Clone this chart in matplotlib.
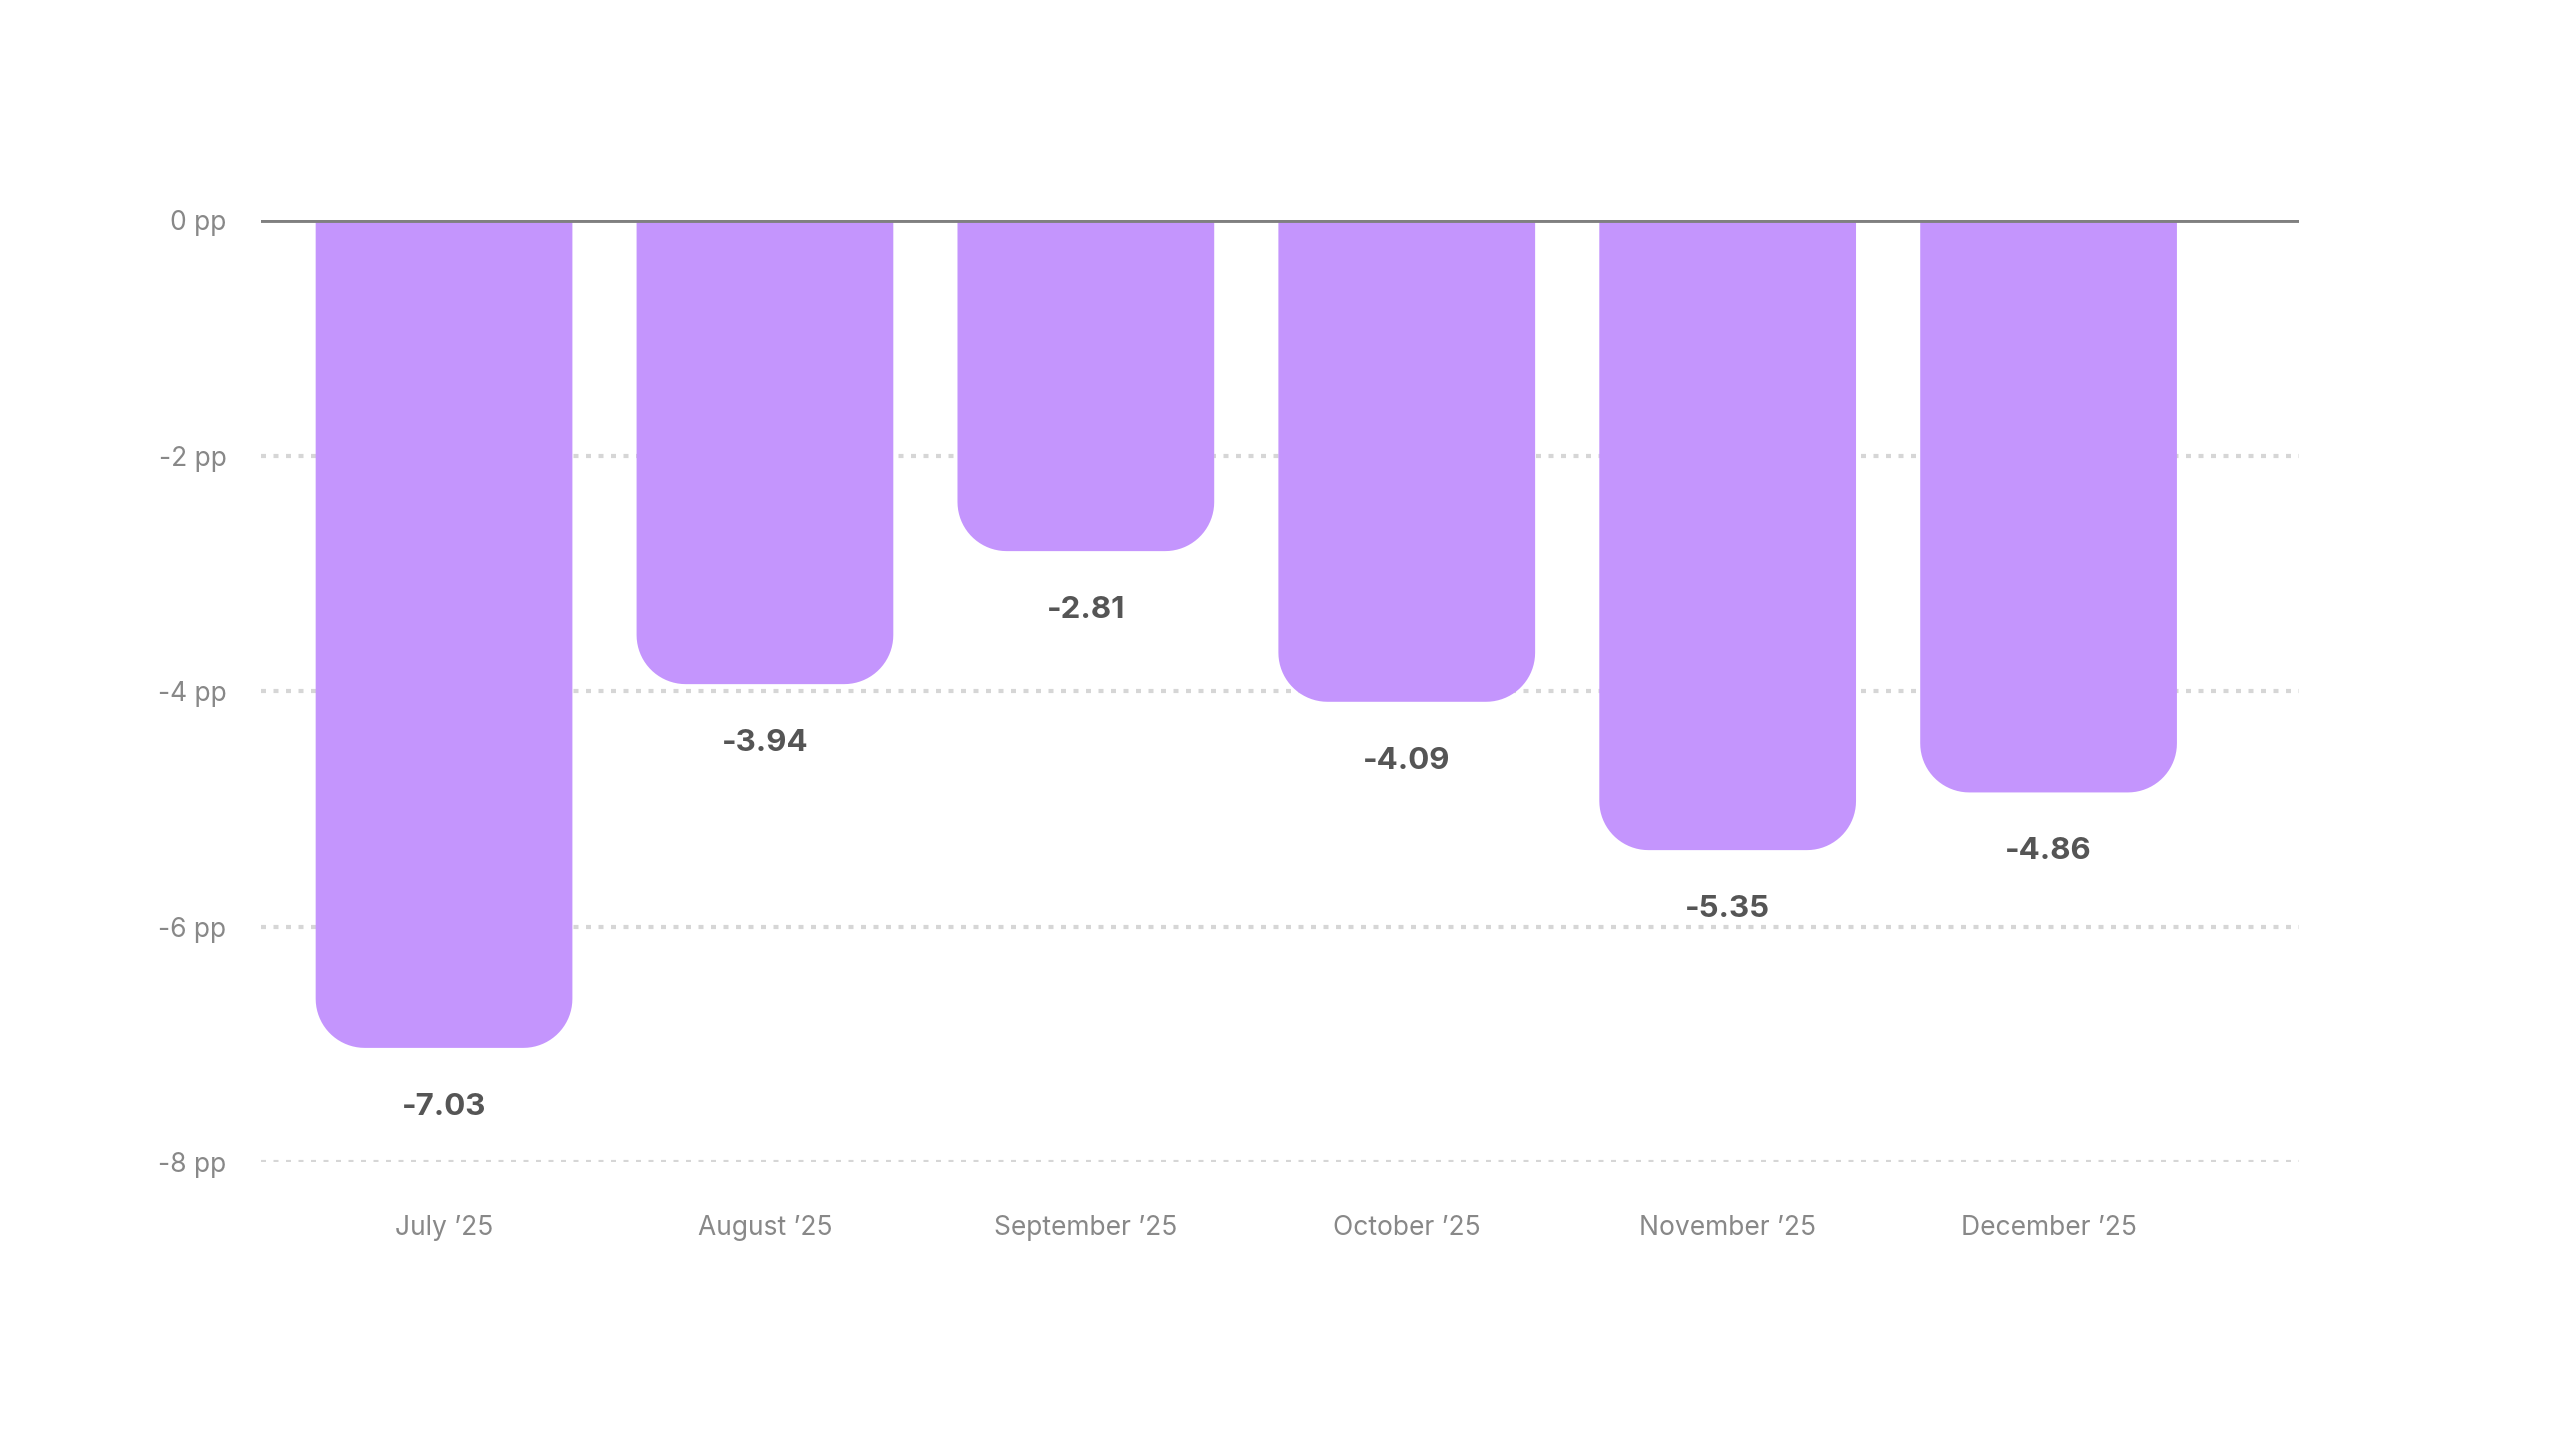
import matplotlib.pyplot as plt
import numpy as np
from matplotlib.patches import Polygon

plt.rcParams['font.family'] = ['Inter', 'DejaVu Sans']

months = ['July \u201925', 'August \u201925', 'September \u201925',
          'October \u201925', 'November \u201925', 'December \u201925']
values = [-7.03, -3.94, -2.81, -4.09, -5.35, -4.86]
yticks = [0, -2, -4, -6, -8]

fig = plt.figure(figsize=(25.6, 14.4), dpi=100)
ax = fig.add_axes([0.102, 0.193, 0.796, 0.654])
ax.set_xlim(-0.57, 5.78)
ax.set_ylim(-8, 0)

bar_w = 0.8
rx, ry = 0.153, 0.417  # corner radius in data units (round on screen)


def rounded_bar(x, v):
    left, right = x - bar_w / 2, x + bar_w / 2
    t = np.linspace(0, np.pi / 2, 20)
    pts = [(left, 0)]
    # bottom-left corner
    for a in t:
        pts.append((left + rx - rx * np.cos(a), v + ry - ry * np.sin(a)))
    # bottom-right corner
    for a in t[::-1]:
        pts.append((right - rx + rx * np.cos(a), v + ry - ry * np.sin(a)))
    pts.append((right, 0))
    return Polygon(pts, closed=True, facecolor='#C495FD', edgecolor='none', zorder=2)


for i, v in enumerate(values):
    ax.add_patch(rounded_bar(i, v))
    ax.text(i, v - 0.5, f'{v:.2f}', ha='center', va='center', fontsize=22.5,
            fontweight='bold', color='#555555', zorder=3)

for y in yticks[1:]:
    ax.axhline(y, color='#d6d6d6', lw=3, ls=(0, (1.2, 1.8)), zorder=1)
ax.axhline(0, color='#808080', lw=3.5, zorder=3)

for s in ax.spines.values():
    s.set_visible(False)
ax.set_yticks(yticks)
ax.set_yticklabels([f'{y} pp' for y in yticks], fontsize=19, color='#888888')
ax.set_xticks(range(len(months)))
ax.set_xticklabels(months, fontsize=19, color='#888888')
ax.tick_params(length=0)
ax.tick_params(axis='y', pad=25)
ax.tick_params(axis='x', pad=38)

fig.savefig('out.png', dpi=100, facecolor='white')
